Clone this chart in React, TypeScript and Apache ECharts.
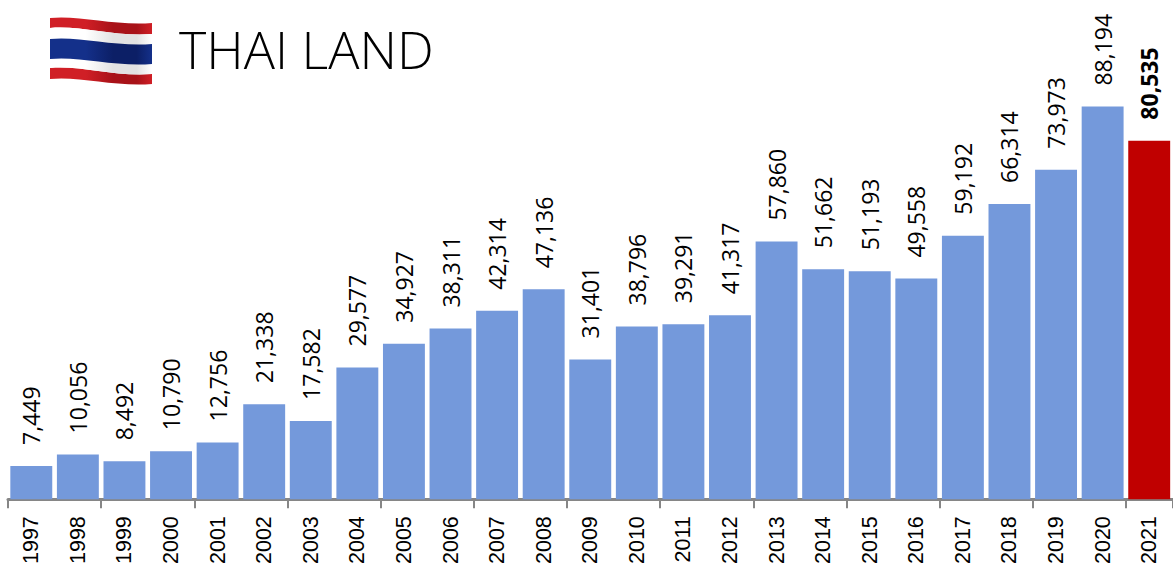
import React, { useEffect, useRef } from "react";
import * as echarts from "echarts";

const years = ["1997","1998","1999","2000","2001","2002","2003","2004","2005","2006","2007","2008","2009","2010","2011","2012","2013","2014","2015","2016","2017","2018","2019","2020","2021"];
const values = [7449,10056,8492,10790,12756,21338,17582,29577,34927,38311,42314,47136,31401,38796,39291,41317,57860,51662,51193,49558,59192,66314,73973,88194,80535];
const highlightYear = "2021";
const titleText = "THAI LAND";

function stripe(yl1: number, yl2: number, yr1: number, yr2: number) {
  const edge = (a: number, b: number) => `C 80 ${a - 3}, 115 ${b + 3}, 152 ${b}`;
  const back = (a: number, b: number) => `C 115 ${b + 3}, 80 ${a - 3}, 50 ${a}`;
  return `M 50 ${yl1} ${edge(yl1, yr1)} L 152 ${yr2} ${back(yl2, yr2)} Z`;
}
const shade = (c1: string, c2: string) => ({
  type: "linear", x: 0, y: 0, x2: 1, y2: 0,
  colorStops: [
    { offset: 0, color: c1 }, { offset: 0.35, color: c1 }, { offset: 0.62, color: c2 },
    { offset: 0.85, color: c2 }, { offset: 1, color: c1 },
  ],
});

export default function App() {
  const ref = useRef<HTMLDivElement>(null);
  useEffect(() => {
    echarts.graphic.registerShape("flagRedA", echarts.graphic.extendPath(stripe(18, 28, 23, 34), {}));
    echarts.graphic.registerShape("flagWhiteA", echarts.graphic.extendPath(stripe(28, 40, 34, 45), {}));
    echarts.graphic.registerShape("flagBlue", echarts.graphic.extendPath(stripe(39, 59, 44, 64), {}));
    echarts.graphic.registerShape("flagWhiteB", echarts.graphic.extendPath(stripe(58, 68, 63, 74), {}));
    echarts.graphic.registerShape("flagRedB", echarts.graphic.extendPath(stripe(68, 79, 74, 84), {}));
    const chart = echarts.init(ref.current!, null, { renderer: "svg" });
    chart.setOption({
      animation: false,
      backgroundColor: "#ffffff",
      grid: { left: 8, right: 0.5, top: 54, bottom: 66, containLabel: false },
      xAxis: {
        type: "category",
        data: years,
        axisLine: { lineStyle: { color: "#868686", width: 3 } },
        axisTick: { show: true, interval: 1, length: 9, lineStyle: { color: "#868686", width: 2 } },
        axisLabel: { interval: 0, rotate: 90, margin: 17, fontFamily: "Liberation Sans", fontSize: 21.5, color: "#000000" },
      },
      yAxis: { type: "value", min: 0, max: 100000, show: false, splitLine: { show: false } },
      series: [{
        type: "bar",
        barCategoryGap: "10%",
        data: values.map((v, i) => ({
          value: v,
          itemStyle: { color: years[i] === highlightYear ? "#C00000" : "#7499DB" },
          label: years[i] === highlightYear ? { fontWeight: "bold" } : undefined,
        })),
        label: {
          show: true,
          position: "top",
          distance: 21,
          rotate: 90,
          align: "left",
          verticalAlign: "middle",
          fontFamily: "Open Sans",
          fontSize: 23,
          color: "#000000",
          formatter: (p: any) => Number(p.value).toLocaleString("en-US"),
        },
      }],
      graphic: [
        { type: "flagRedA", silent: true, style: { fill: shade("#D01F26", "#A81218") } },
        { type: "flagWhiteA", silent: true, style: { fill: shade("#FFFFFF", "#E2E2E2") } },
        { type: "flagRedB", silent: true, style: { fill: shade("#D01F26", "#A81218") } },
        { type: "flagWhiteB", silent: true, style: { fill: shade("#FFFFFF", "#E2E2E2") } },
        { type: "flagBlue", silent: true, style: { fill: shade("#14308A", "#0C1F66") } },
        { type: "text", left: 179, top: 22, silent: true, style: { text: titleText, fontFamily: "Open Sans", fontWeight: 300, fontSize: 52, fill: "#000000" } },
      ],
    });
    return () => chart.dispose();
  }, []);
  return <div ref={ref} style={{ position: "fixed", left: 0, top: 0, width: 1173, height: 567 }} />;
}
